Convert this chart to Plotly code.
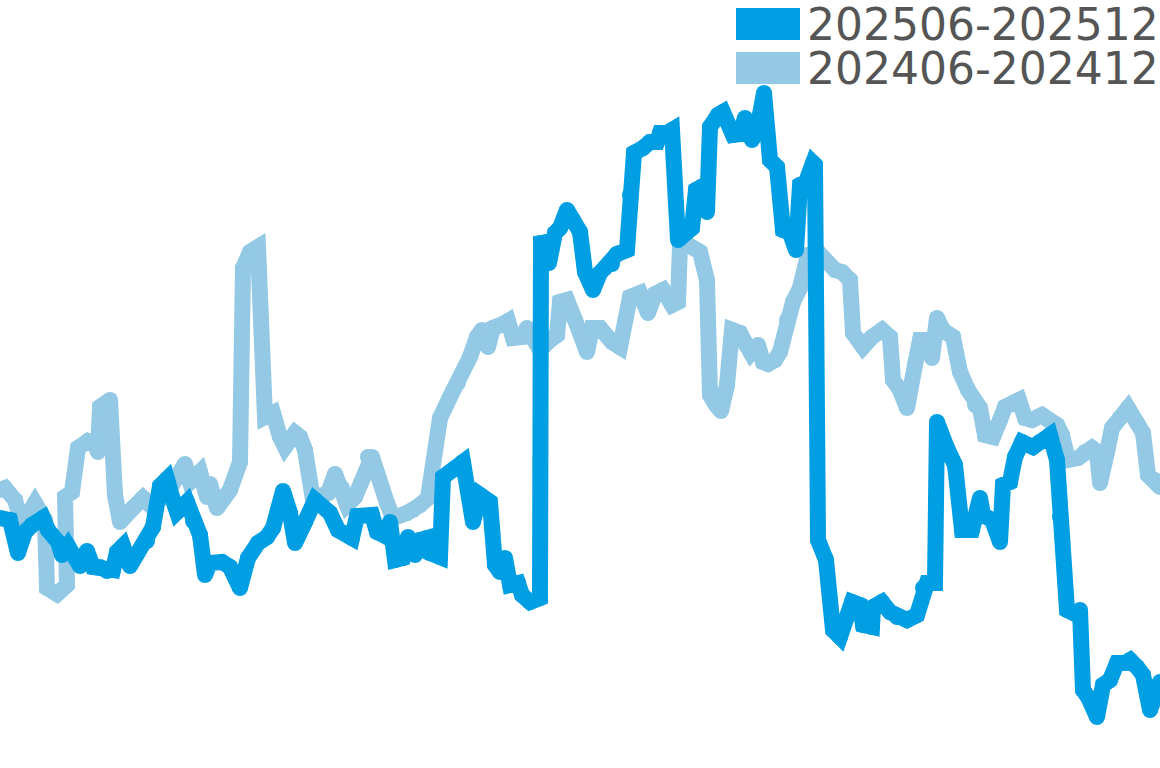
import plotly.graph_objects as go

# values: t = position along the period, v = level
t_2025 = [0, 10, 18, 25, 32, 43, 48, 58, 62, 68, 80, 87, 93, 100, 107, 113, 117, 123, 130, 137,
          147, 153, 160, 167, 172, 177, 187, 193, 200, 205, 210, 222, 230, 240, 248, 258, 267, 273, 283, 290,
          295, 305, 315, 330, 338, 352, 357, 372, 377, 387, 390, 395, 403, 408, 415, 420, 427, 430, 440, 443,
          463, 473, 480, 490, 495, 500, 505, 510, 518, 522, 530, 540, 541, 547, 549, 555, 560, 567, 573, 580,
          585, 593, 600, 605, 612, 617, 627, 630, 634, 643, 650, 657, 660, 667, 672, 678, 685, 692, 696, 703,
          707, 710, 718, 723, 733, 740, 745, 752, 758, 764, 770, 777, 783, 790, 796, 800, 806, 813, 815, 818,
          826, 833, 840, 852, 860, 863, 872, 873, 882, 890, 897, 907, 917, 923, 927, 935, 937, 947, 955, 962,
          972, 980, 983, 992, 1000, 1003, 1010, 1015, 1022, 1033, 1040, 1050, 1057, 1060, 1067, 1077, 1080, 1083,
          1088, 1097, 1103, 1110, 1117, 1125, 1130, 1137, 1143, 1150, 1157, 1160]
p_2025 = [518, 520, 553, 532, 525, 518, 530, 542, 555, 546, 566, 551, 567, 567, 571, 570, 552, 546, 566, 554,
          541, 527, 486, 479, 497, 512, 502, 521, 535, 575, 563, 562, 567, 588, 558, 543, 537, 528, 491, 513,
          543, 522, 500, 513, 530, 538, 516, 515, 532, 537, 522, 560, 558, 537, 555, 540, 538, 553, 557, 477,
          462, 522, 495, 502, 565, 572, 558, 585, 583, 595, 602, 598, 243, 242, 263, 233, 228, 210, 220, 232,
          272, 290, 273, 268, 264, 254, 250, 195, 153, 148, 142, 142, 133, 133, 130, 240, 233, 228, 190, 186,
          212, 127, 115, 112, 135, 134, 118, 140, 125, 93, 160, 167, 230, 233, 250, 185, 182, 163, 165, 540,
          560, 630, 637, 602, 605, 625, 627, 607, 602, 612, 617, 620, 615, 588, 583, 583, 422, 448, 465, 530,
          530, 498, 515, 520, 542, 485, 482, 457, 442, 447, 442, 435, 460, 517, 610, 615, 610, 690,
          697, 717, 685, 680, 663, 663, 660, 667, 675, 710, 687, 682]

t_2024 = [0, 5, 15, 20, 28, 35, 45, 47, 57, 67, 65, 72, 78, 88, 95, 98, 100, 110, 115, 120,
          133, 143, 150, 165, 175, 185, 190, 200, 207, 210, 217, 230, 240, 243, 250, 258, 265, 273, 280, 285,
          295, 300, 305, 313, 320, 328, 335, 342, 347, 355, 368, 372, 387, 393, 407, 413, 420, 428, 440, 450,
          458, 470, 477, 482, 488, 493, 503, 508, 513, 522, 527, 540, 550, 557, 560, 567, 575, 587, 592, 600,
          612, 620, 630, 640, 648, 655, 663, 672, 678, 680, 690, 700, 707, 710, 716, 721, 727, 732, 740, 746,
          751, 758, 763, 768, 775, 780, 787, 793, 800, 808, 818, 827, 835, 842, 850, 853, 863, 872, 882, 890,
          893, 900, 907, 915, 920, 927, 932, 937, 943, 953, 960, 968, 975, 980, 985, 993, 1000, 1005, 1013, 1019,
          1025, 1032, 1042, 1048, 1057, 1062, 1068, 1078, 1085, 1092, 1097, 1100, 1107, 1112, 1120, 1128, 1137, 1143,
          1148, 1155, 1160]
p_2024 = [490, 488, 500, 517, 515, 503, 520, 588, 594, 585, 497, 492, 448, 441, 444, 452, 407, 400, 495, 522,
          508, 498, 505, 497, 480, 464, 482, 472, 497, 484, 508, 490, 462, 268, 252, 247, 417, 413, 437, 447,
          433, 437, 450, 500, 496, 493, 474, 488, 505, 497, 457, 457, 503, 518, 513, 510, 505, 498, 418, 397,
          383, 357, 337, 330, 347, 328, 324, 321, 338, 337, 328, 350, 340, 335, 302, 300, 320, 352, 328, 328,
          342, 347, 297, 293, 313, 294, 290, 305, 302, 245, 246, 252, 280, 395, 405, 411, 385, 330, 333, 345,
          353, 345, 362, 364, 360, 352, 320, 302, 288, 255, 252, 262, 270, 272, 280, 333, 347, 337, 330, 337,
          380, 390, 408, 365, 340, 340, 358, 318, 330, 337, 372, 390, 405, 408, 435, 437, 420, 407, 403, 400,
          418, 420, 415, 420, 425, 435, 460, 458, 452, 448, 452, 483, 452, 428, 418, 408, 423, 433,
          475, 480, 487]

v_2025 = [768 - p for p in p_2025]
v_2024 = [768 - p for p in p_2024]

names = ["202506-202512", "202406-202412"]
colors = ["#009fe3", "#93c9e4"]

fig = go.Figure()
# older period drawn first so the current one sits on top;
# markers at the vertices give the rounded joins
fig.add_trace(go.Scatter(x=t_2024, y=v_2024, mode="lines+markers", name=names[1],
                         line=dict(color=colors[1], width=16),
                         marker=dict(color=colors[1], size=16, line_width=0)))
fig.add_trace(go.Scatter(x=t_2025, y=v_2025, mode="lines+markers", name=names[0],
                         line=dict(color=colors[0], width=16),
                         marker=dict(color=colors[0], size=16, line_width=0)))

# legend drawn by hand: big colour blocks and large labels in the top right
for i, (name, col) in enumerate(zip(names, colors)):
    top = 1 - (8 + 44 * i) / 768
    fig.add_shape(type="rect", xref="paper", yref="paper",
                  x0=736 / 1160, x1=800 / 1160, y0=top - 32 / 768, y1=top,
                  fillcolor=col, line_width=0)
    fig.add_annotation(x=806 / 1160, y=top + 10 / 768, xref="paper", yref="paper",
                       text=name, showarrow=False, xanchor="left", yanchor="top",
                       borderpad=0,
                       font=dict(family="DejaVu Sans", size=44, color="#555555"))

fig.update_layout(
    width=1160, height=768,
    margin=dict(l=0, r=0, t=0, b=0),
    paper_bgcolor="white", plot_bgcolor="white",
    showlegend=False,
    xaxis=dict(range=[0, 1160], visible=False),
    yaxis=dict(range=[0, 768], visible=False),
)

fig.write_html("out.html", config={"displayModeBar": False},
               post_script="document.body.style.margin='0';")
